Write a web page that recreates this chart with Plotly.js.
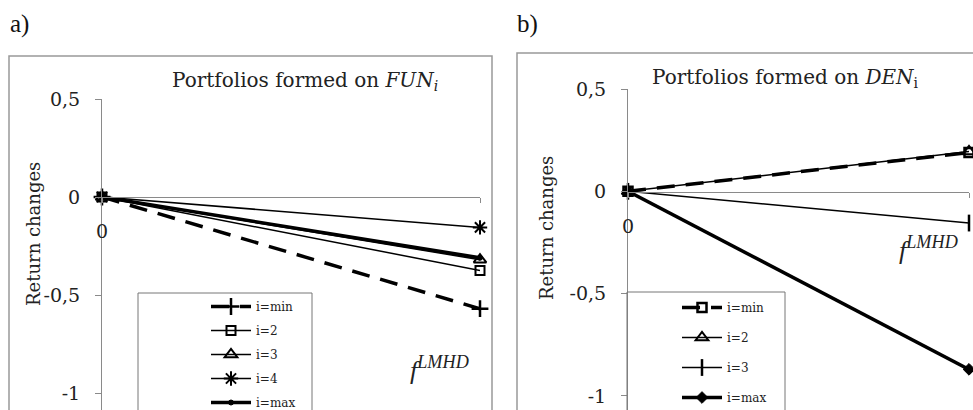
<!DOCTYPE html>
<html><head><meta charset="utf-8">
<script src="https://cdn.plot.ly/plotly-3.0.1.min.js"></script>
<style>html,body{margin:0;padding:0;background:#fff;overflow:hidden}#chart{width:973px;height:410px}</style>
</head><body><div id="chart"></div>
<script>
// ---- data ----
var xPoints = [0, 1];
var xTickVals = [0, 1];
var xTickText = ["0", ""];
var yTickVals = [0.5, 0, -0.5, -1];
var yTickText = ["0,5", "0", "-0,5", "-1"];

// Panel a: portfolios formed on FUN_i
var namesA = ["i=min", "i=2", "i=3", "i=4", "i=max"];
var aMin = [0, -0.57];
var a2 = [0, -0.375];
var a3 = [0, -0.32];
var a4 = [0, -0.155];
var aMax = [0, -0.31];

// Panel b: portfolios formed on DEN_i
var namesB = ["i=min", "i=2", "i=3", "i=max"];
var bMin = [0, 0.19];
var b2 = [0, 0.195];
var b3 = [0, -0.155];
var bMax = [0, -0.87];

var W = 973, H = 410;
function px(x){return x/W;}
function py(y){return (H-y)/H;}
var serif = "DejaVu Serif, serif";
var times = "Liberation Serif, serif";
var black = "#000";

function tr(y, name, xa, ya, leg, lw, dash, sym, msize, mlw){
  return {x:xPoints, y:y, name:name, xaxis:xa, yaxis:ya, legend:leg, legendgroup:leg+name,
    type:"scatter", mode:"lines+markers", cliponaxis:false,
    line:{color:black, width:lw, dash:dash},
    marker:{symbol:sym, size:msize, color:black, line:{color:black, width:mlw}}};
}

var data = [
  tr(aMin, namesA[0], "x", "y", "legend", 3.5, "18px,11px", "cross-thin-open", 12, 2.5),
  tr(a2, namesA[1], "x", "y", "legend", 1.5, "solid", "square-open", 9, 2),
  tr(a3, namesA[2], "x", "y", "legend", 1.5, "solid", "triangle-up-open", 11, 2),
  tr(a4, namesA[3], "x", "y", "legend", 1.5, "solid", "asterisk-open", 12, 2),
  tr(aMax, namesA[4], "x", "y", "legend", 3.5, "solid", "circle", 5, 1),
  tr(bMin, namesB[0], "x2", "y2", "legend2", 3.5, "18px,11px", "square-open", 9, 2.5),
  tr(b2, namesB[1], "x2", "y2", "legend2", 1.5, "solid", "triangle-up-open", 11, 2),
  tr(b3, namesB[2], "x2", "y2", "legend2", 1.5, "solid", "line-ns-open", 12, 2.5),
  tr(bMax, namesB[3], "x2", "y2", "legend2", 3.5, "solid", "diamond", 9, 1)
];

var gray = "#8a8a8a";
function xax(d0, d1, pos){
  return {domain:[px(d0), px(d1)], range:[0,1], anchor:"free", position:py(pos),
    showline:true, linecolor:gray, linewidth:1, ticks:"outside", ticklen:5, tickcolor:gray,
    tickvals:xTickVals, ticktext:xTickText, ticklabelstandoff:12,
    tickfont:{family:serif, size:19, color:"#222"}, showgrid:false, zeroline:false, fixedrange:true, automargin:false};
}
function yax(anch, top, zeroY, unit){
  var bottomVal = -(H - zeroY)/unit;
  return {domain:[0, py(top)], range:[bottomVal, 0.5], anchor:anch,
    showline:true, linecolor:gray, linewidth:1, ticks:"outside", ticklen:6, tickcolor:gray,
    tickvals:yTickVals, ticktext:yTickText, ticklabelstandoff:11,
    tickfont:{family:serif, size:19, color:"#222"}, showgrid:false, zeroline:false, fixedrange:true, automargin:false};
}

var layout = {
  width:W, height:H, margin:{l:0,r:0,t:0,b:0, autoexpand:false}, paper_bgcolor:"#fff", plot_bgcolor:"rgba(0,0,0,0)",
  showlegend:true,
  xaxis: xax(102, 480, 197),
  yaxis: yax("x", 99, 197, 196),
  xaxis2: xax(628, 969, 192),
  yaxis2: yax("x2", 89, 192, 204),
  legend:{x:px(206), y:py(292), xanchor:"left", yanchor:"top", bgcolor:"rgba(0,0,0,0)",
    borderwidth:0, font:{family:serif, size:12, color:"#222"}, tracegroupgap:5, itemwidth:40},
  legend2:{x:px(677), y:py(293), xanchor:"left", yanchor:"top", bgcolor:"rgba(0,0,0,0)",
    borderwidth:0, font:{family:serif, size:12, color:"#222"}, tracegroupgap:11, itemwidth:40},
  shapes:[
    {type:"rect", xref:"paper", yref:"paper", x0:px(9), x1:px(492), y0:-0.1, y1:py(56), line:{color:"#999", width:1.5}},
    {type:"rect", xref:"paper", yref:"paper", x0:px(517), x1:1.1, y0:-0.1, y1:py(53), line:{color:"#999", width:1.5}},
    {type:"rect", xref:"paper", yref:"paper", x0:px(138), x1:px(312), y0:-0.1, y1:py(293), line:{color:"#777", width:1}},
    {type:"rect", xref:"paper", yref:"paper", x0:px(627), x1:px(785), y0:-0.1, y1:py(292), line:{color:"#777", width:1}}
  ],
  annotations:[
    {text:"a)", xref:"paper", yref:"paper", x:px(8), y:py(24), xanchor:"left", yanchor:"middle", showarrow:false, font:{family:times, size:25, color:"#111"}},
    {text:"b)", xref:"paper", yref:"paper", x:px(515), y:py(24), xanchor:"left", yanchor:"middle", showarrow:false, font:{family:times, size:25, color:"#111"}},
    {text:"Portfolios formed on <i>FUN<sub>i</sub></i>", xref:"paper", yref:"paper", x:px(305), y:py(81), xanchor:"center", yanchor:"middle", showarrow:false, font:{family:serif, size:20, color:"#222"}},
    {text:"Portfolios formed on <i>DEN</i><sub>i</sub>", xref:"paper", yref:"paper", x:px(785), y:py(78), xanchor:"center", yanchor:"middle", showarrow:false, font:{family:serif, size:20, color:"#222"}},
    {text:"Return changes", xref:"paper", yref:"paper", x:px(33), y:py(234), xanchor:"center", yanchor:"middle", textangle:-90, showarrow:false, font:{family:serif, size:18, color:"#222"}},
    {text:"Return changes", xref:"paper", yref:"paper", x:px(546), y:py(228), xanchor:"center", yanchor:"middle", textangle:-90, showarrow:false, font:{family:serif, size:18, color:"#222"}},
    {text:"<i>f</i><sup><i>LMHD</i></sup>", xref:"paper", yref:"paper", x:px(408), y:py(368), xanchor:"left", yanchor:"middle", showarrow:false, font:{family:times, size:26, color:"#222"}},
    {text:"<i>f</i><sup><i>LMHD</i></sup>", xref:"paper", yref:"paper", x:px(897), y:py(248), xanchor:"left", yanchor:"middle", showarrow:false, font:{family:times, size:26, color:"#222"}}
  ]
};

Plotly.newPlot("chart", data, layout, {displayModeBar:false, staticPlot:true});
</script></body></html>
